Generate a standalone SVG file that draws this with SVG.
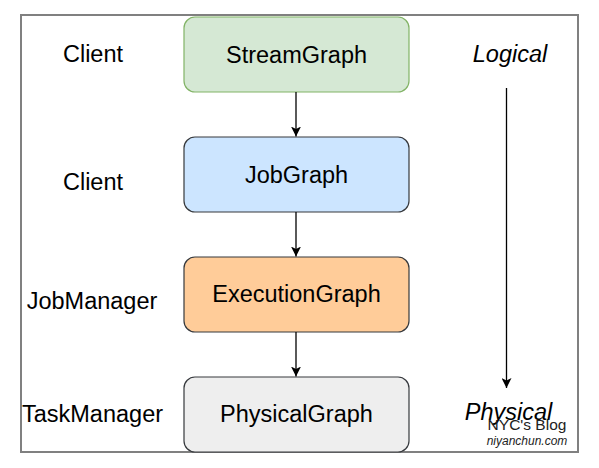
<svg xmlns="http://www.w3.org/2000/svg" width="599" height="468" viewBox="0 0 599 468">
<defs>
<marker id="arr" viewBox="0 0 10 10" refX="10" refY="5" markerWidth="10" markerHeight="10" markerUnits="userSpaceOnUse" orient="auto">
<path d="M0,0 L10,5 L0,10 L2.5,5 Z" fill="#000"/>
</marker>
<style>
text{font-family:"Liberation Sans",Arial,Helvetica,sans-serif;fill:#000}
.t{font-size:23.5px;text-anchor:middle}
.i{font-style:italic}
.box{stroke:#36393d;stroke-width:1.2}
.c{stroke:#000;stroke-width:1.3;fill:none}
</style>
</defs>
<rect x="21" y="15" width="557" height="437" fill="#fff" stroke="#808080" stroke-width="2"/>
<g id="streamgraph">
<rect x="184" y="17" width="225" height="75" rx="11" fill="#d5e8d4" stroke="#82b366" stroke-width="1.2"/>
<text class="t" x="296.5" y="62.5">StreamGraph</text>
</g>
<g id="jobgraph">
<rect class="box" x="184" y="137" width="225" height="75" rx="11" fill="#cce5ff"/>
<text class="t" x="296.5" y="182.5">JobGraph</text>
</g>
<g id="executiongraph">
<rect class="box" x="184" y="257" width="225" height="75" rx="11" fill="#ffcc99"/>
<text class="t" x="296.5" y="302">ExecutionGraph</text>
</g>
<g id="physicalgraph">
<rect class="box" x="184" y="377" width="225" height="75" rx="11" fill="#eeeeee"/>
<text class="t" x="296.5" y="422">PhysicalGraph</text>
</g>
<g id="labels">
<text class="t" x="93" y="61.5">Client</text>
<text class="t" x="93" y="189.5">Client</text>
<text class="t" x="92" y="308.5">JobManager</text>
<text class="t" x="92.5" y="421.5">TaskManager</text>
<text class="t i" x="510" y="61.5">Logical</text>
<text class="t i" x="508.5" y="420">Physical</text>
</g>
<g id="connectors">
<line class="c" x1="296" y1="92" x2="296" y2="136.5" marker-end="url(#arr)"/>
<line class="c" x1="296" y1="212" x2="296" y2="256.5" marker-end="url(#arr)"/>
<line class="c" x1="296" y1="332" x2="296" y2="376.5" marker-end="url(#arr)"/>
<line class="c" x1="506.5" y1="88" x2="506.5" y2="388" marker-end="url(#arr)"/>
</g>
<g id="watermark">
<text x="527" y="430" style="font-size:15.5px;text-anchor:middle;fill:#222">NYC's Blog</text>
<text class="i" x="527" y="445" style="font-size:12px;text-anchor:middle;fill:#222">niyanchun.com</text>
</g>
</svg>
